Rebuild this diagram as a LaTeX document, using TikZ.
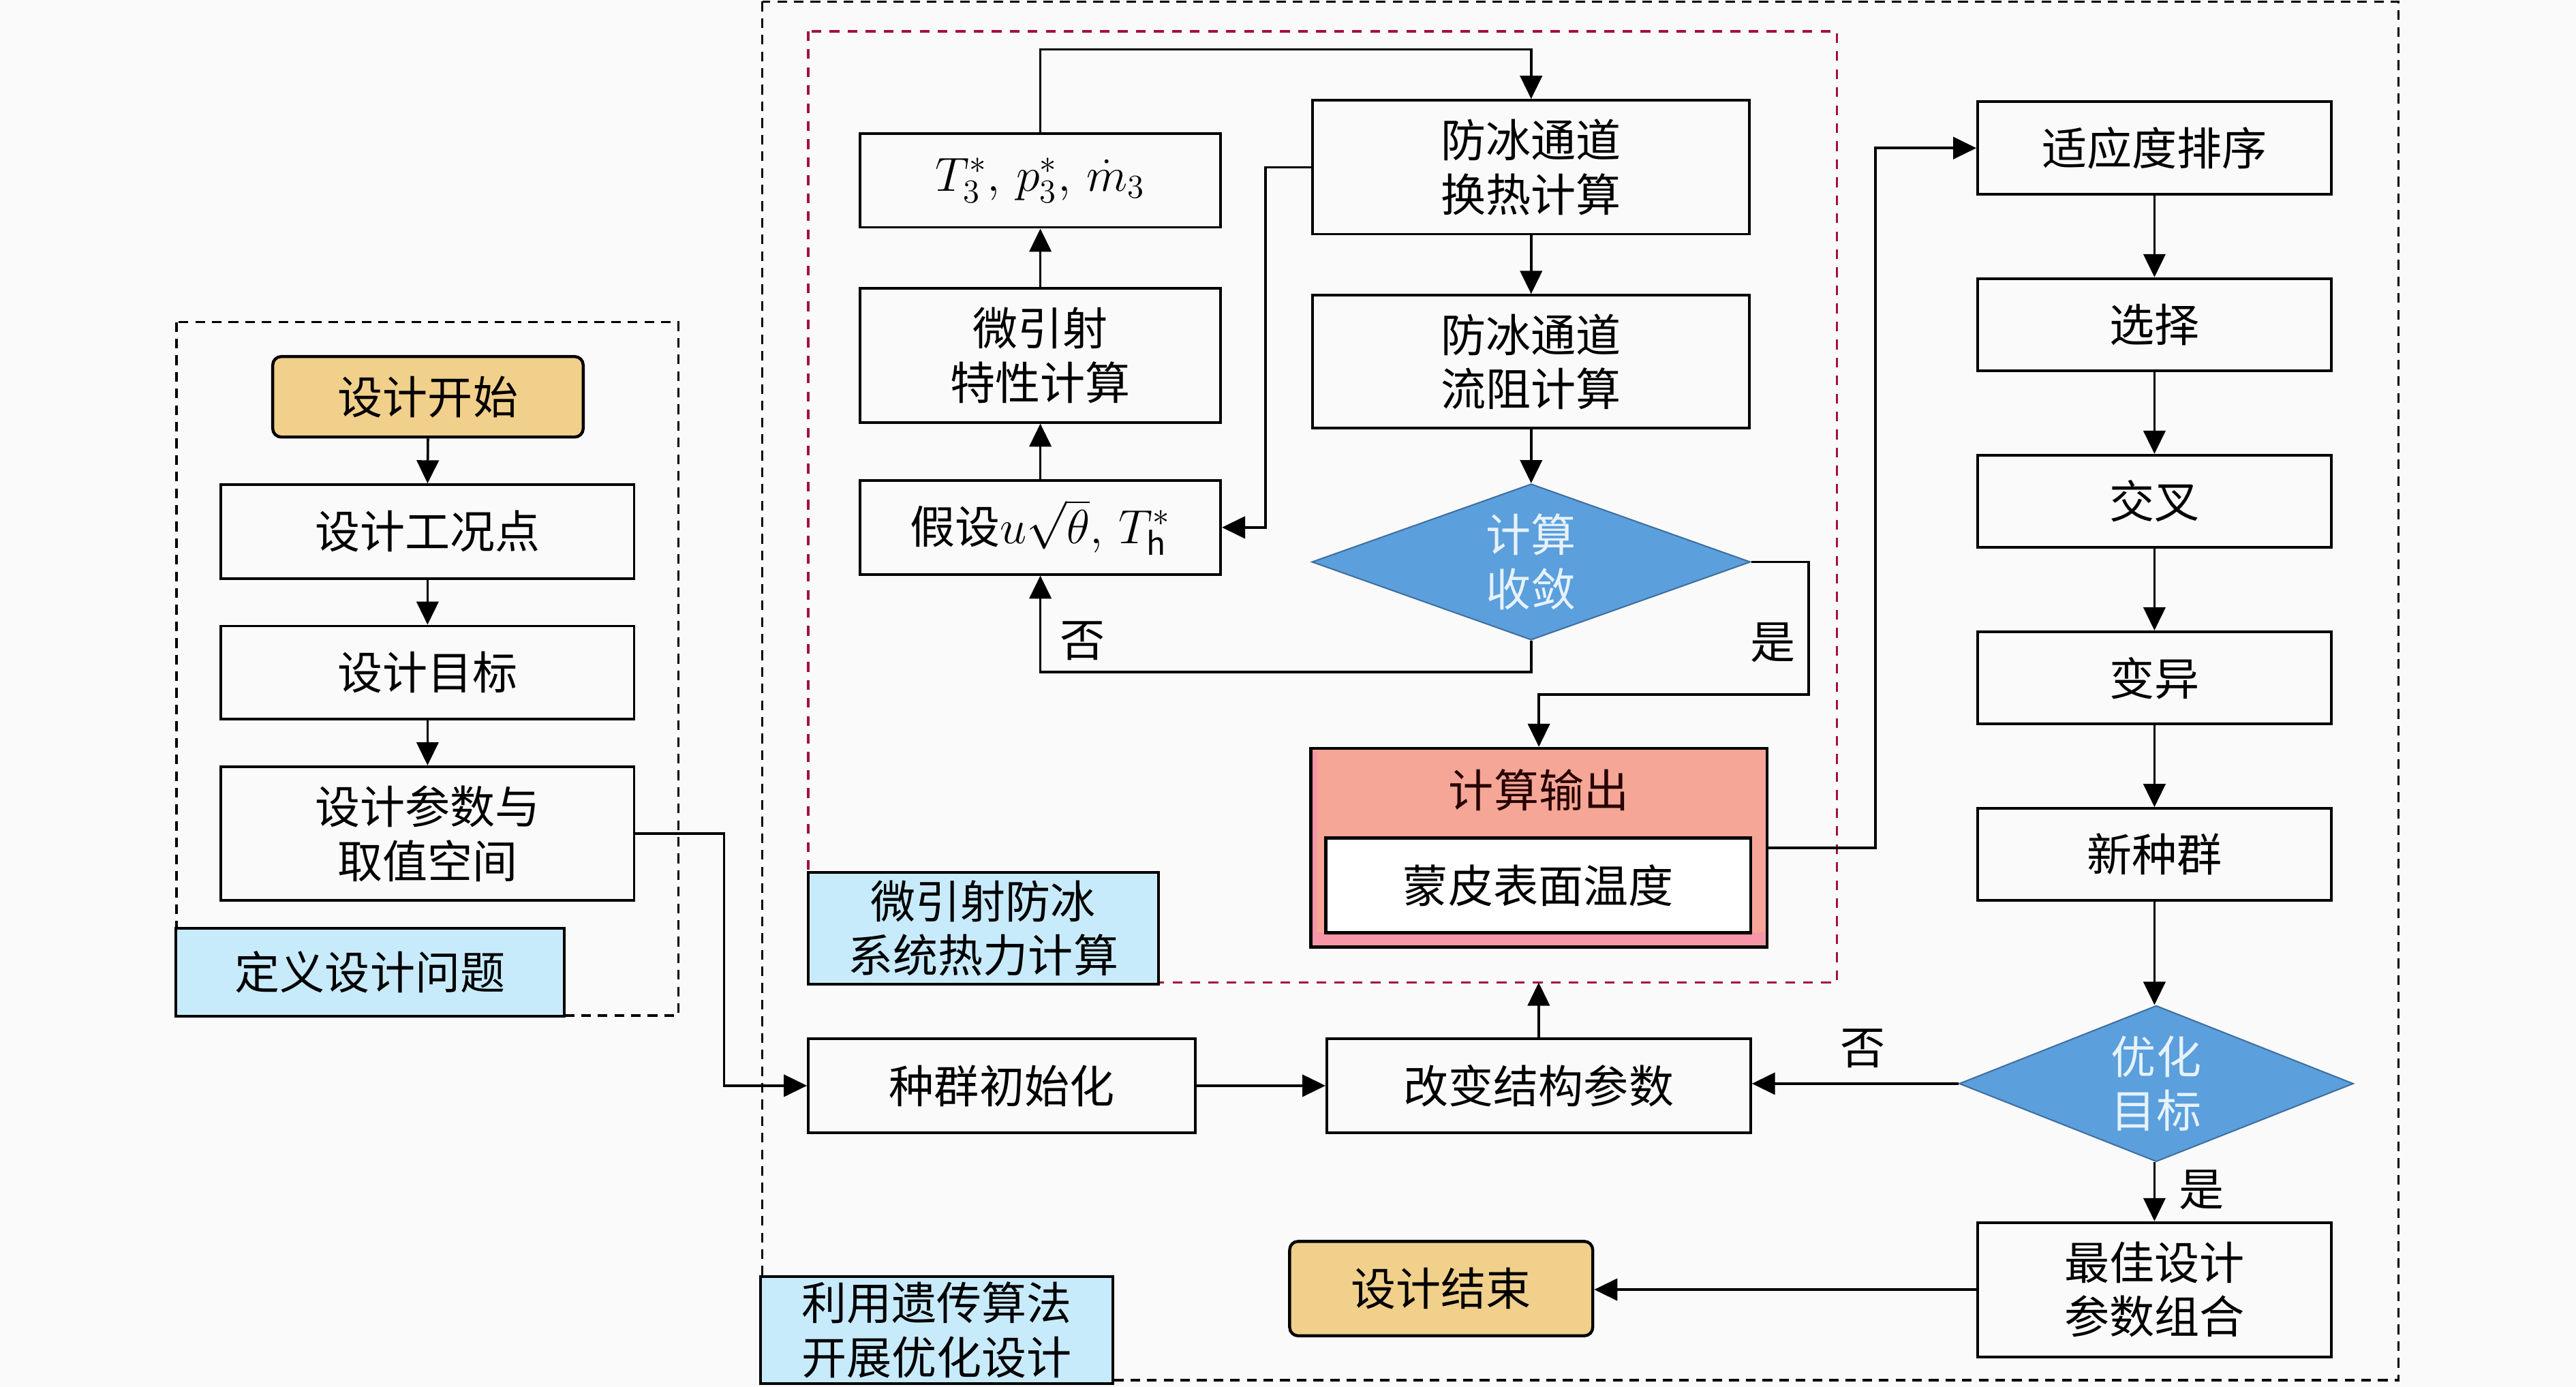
\documentclass[tikz,border=0pt]{standalone}
\usepackage{fontspec}
\setmainfont{Noto Sans CJK SC}
\usetikzlibrary{arrows.meta,shapes.geometric}
\definecolor{bgc}{HTML}{FAFAFA}
\definecolor{startc}{HTML}{F1D08B}
\definecolor{labc}{HTML}{C8EBFC}
\definecolor{outc}{HTML}{F5A696}
\definecolor{pinkc}{HTML}{F795A9}
\definecolor{diac}{HTML}{5B9FDC}
\definecolor{diad}{HTML}{3E6F9F}
\definecolor{diat}{HTML}{E6F2FC}
\definecolor{redd}{HTML}{A3103F}
\def\U{*0.025cm}
\begin{document}
\begin{tikzpicture}[x=0.025cm,y=-0.025cm,
  every node/.style={font=\fontsize{19.5}{23.5}\selectfont, inner sep=0pt, align=center},
  box/.style={draw=black, line width=1.15pt, fill=bgc},
  startbox/.style={draw=black, line width=1.3pt, fill=startc, rounded corners=0.13cm},
  labbox/.style={draw=black, line width=1.15pt, fill=labc},
  dia/.style={diamond, draw=diad, line width=0.6pt, fill=diac, text=diat, inner sep=0pt},
  arr/.style={line width=1.05pt, -{Triangle[length=10pt,width=9.5pt]}},
  blkdash/.style={draw=black, line width=1pt, dash pattern=on 4.2pt off 3pt},
  reddash/.style={draw=redd, line width=1pt, dash pattern=on 4.2pt off 3.6pt},
]
\useasboundingbox (0,0) rectangle (1568,844);
\fill[bgc] (0,0) rectangle (1568,844);

% ---------- dashed frames ----------
\draw[blkdash] (107.5,196) rectangle (413,618);
\draw[blkdash] (464,1) rectangle (1460,840);
\draw[reddash] (492,19) rectangle (1118,598);

% ---------- left column ----------
\node[startbox, minimum width=189\U, minimum height=49\U] (start) at (260.5,241.5) {设计开始};
\node[box, minimum width=251.5\U, minimum height=57\U] (wk) at (260.25,323.5) {设计工况点};
\node[box, minimum width=251.5\U, minimum height=56.6\U] (mb) at (260.25,409.3) {设计目标};
\node[box, minimum width=251.5\U, minimum height=81.4\U] (cs) at (260.25,507.3) {设计参数与\\取值空间};
\node[labbox, minimum width=236.5\U, minimum height=53.5\U] (lab1) at (225.25,591.75) {定义设计问题};

% ---------- thermal calculation ----------
\node[box, minimum width=219.5\U, minimum height=57\U] (t3) at (633.25,109.85) {$T_3^*,\, p_3^*,\, \dot{m}_3$};
\node[box, minimum width=219.5\U, minimum height=81.5\U] (tx) at (633.25,216.25) {微引射\\特性计算};
\node[box, minimum width=219.5\U, minimum height=57\U] (js) at (633.25,321) {假设$u\sqrt{\theta},\, T_{\mathrm{h}}^{*}$};
\node[box, minimum width=266\U, minimum height=81.5\U] (hr) at (932,101.75) {防冰通道\\换热计算};
\node[box, minimum width=266\U, minimum height=80.8\U] (zl) at (932,220.1) {防冰通道\\流阻计算};
\node[dia, minimum width=267\U, minimum height=95\U, shape aspect=2.8] (d1) at (932,342) {计算\\收敛};

\node[draw=black, line width=1.4pt, fill=outc, minimum width=277.8\U, minimum height=121\U] (out) at (936.7,516) {};
\fill[pinkc] (799,567.6) rectangle (1074.3,575);
\fill[pinkc] (799,457) rectangle (801.5,575);
\draw[line width=1.4pt] (797.8,455.5) rectangle (1075.6,576.4);
\node[text=black!85!red] (outt) at (936.7,481) {计算输出};
\node[draw=black, line width=1.3pt, fill=white, minimum width=258.7\U, minimum height=57.6\U] (skin) at (936.35,538.8) {蒙皮表面温度};
\node[labbox, minimum width=213\U, minimum height=68\U] (lab2) at (598.5,565) {微引射防冰\\系统热力计算};

% ---------- GA ----------
\node[box, minimum width=235.6\U, minimum height=57.5\U] (pop) at (609.8,660.75) {种群初始化};
\node[box, minimum width=258\U, minimum height=57.5\U] (gb) at (936.6,660.75) {改变结构参数};
\node[startbox, minimum width=184.5\U, minimum height=57.5\U] (end) at (877.25,784.25) {设计结束};
\node[labbox, minimum width=214.5\U, minimum height=65\U] (lab3) at (570.25,809.5) {利用遗传算法\\开展优化设计};

\node[box, minimum width=215.2\U, minimum height=56.4\U] (sy) at (1311.4,90.1) {适应度排序};
\node[box, minimum width=215.2\U, minimum height=56.2\U] (xz) at (1311.4,197.6) {选择};
\node[box, minimum width=215.2\U, minimum height=56\U] (jc) at (1311.4,305) {交叉};
\node[box, minimum width=215.2\U, minimum height=56.2\U] (by) at (1311.4,412.6) {变异};
\node[box, minimum width=215.2\U, minimum height=56\U] (xzq) at (1311.4,520) {新种群};
\node[dia, minimum width=240\U, minimum height=95\U, shape aspect=2.5] (d2) at (1312.5,659.5) {优化\\目标};
\node[box, minimum width=215.2\U, minimum height=81.7\U] (zj) at (1311.4,784.85) {最佳设计\\参数组合};

% ---------- connectors ----------
\draw[arr] (start.south) -- (wk.north);
\draw[arr] (wk.south) -- (mb.north);
\draw[arr] (mb.south) -- (cs.north);
\draw[arr] (cs.east) -- ++(54,0) |- (pop.west);
\draw[arr] (pop.east) -- (gb.west);
\coordinate (rb) at (936.6,598);
\draw[arr] (gb.north) -- (gb.north |- rb);

\draw[arr] (t3.north) -- ++(0,-50.4) -| (hr.north);
\draw[arr] (hr.south) -- (zl.north);
\draw[arr] (zl.south) -- (d1.north);
\draw[arr] (hr.west) -- ++(-28,0) |- (js.east);
\draw[arr] (d1.south) -- ++(0,19) -| (js.south);
\draw[arr] (js.north) -- (tx.south);
\draw[arr] (tx.north) -- (t3.south);
\draw[arr] (d1.east) -- ++(35.1,0) -- ++(0,80.7) -| (out.north);
\draw[arr] (out.east) -- ++(65,0) |- (sy.west);

\draw[arr] (sy.south) -- (xz.north);
\draw[arr] (xz.south) -- (jc.north);
\draw[arr] (jc.south) -- (by.north);
\draw[arr] (by.south) -- (xzq.north);
\draw[arr] (xzq.south) -- (d2.north -| xzq.south);
\draw[arr] (d2.south -| zj.north) -- (zj.north);
\draw[arr] (d2.west) -- (d2.west -| gb.east);
\draw[arr] (zj.west) -- (zj.west -| end.east);

% ---------- connector labels ----------
\node (no1) at (659,390) {否};
\node (yes1) at (1079,391) {是};
\node (yes2) at (1340,724) {是};
\node (no2) at (1134,638) {否};
\end{tikzpicture}
\end{document}
